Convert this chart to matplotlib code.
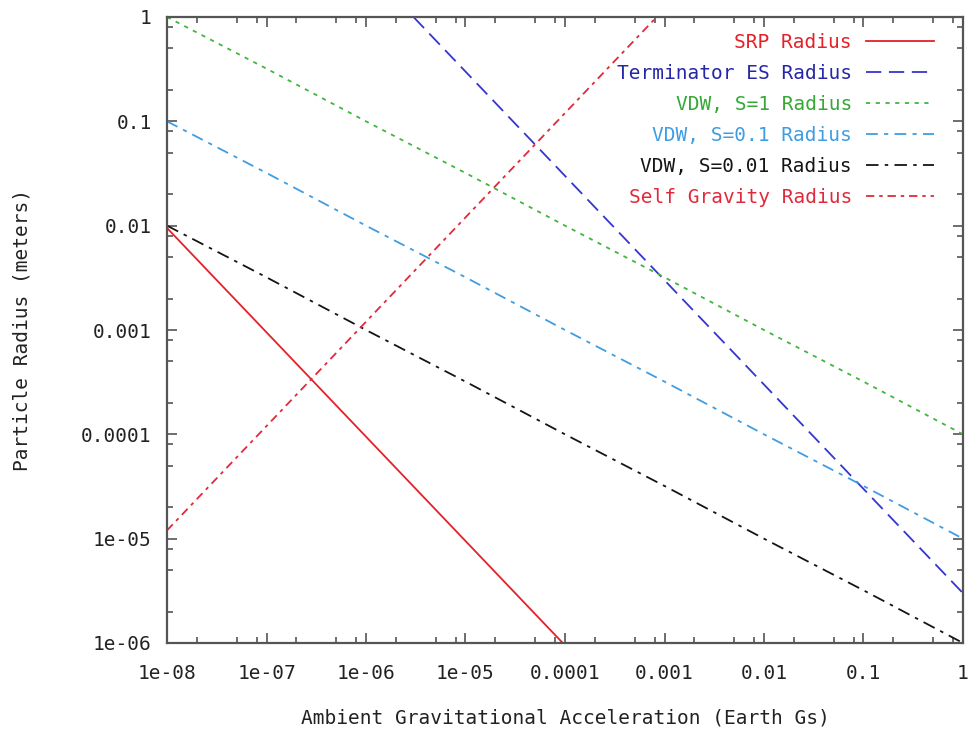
import matplotlib
matplotlib.use("Agg")
import matplotlib.pyplot as plt
from matplotlib.ticker import LogLocator, FixedLocator, FixedFormatter, NullFormatter

plt.rcParams['font.family'] = ['DejaVu Sans Mono', 'DejaVu Sans']
plt.rcParams['lines.scale_dashes'] = False

# ---- data ----
srp_g = [1e-8, 1e-7, 1e-6, 1e-5, 1e-4]
srp_r = [9.5e-3, 9.5e-4, 9.5e-5, 9.5e-6, 9.5e-7]

es_g = [3e-6, 1e-5, 1e-4, 1e-3, 1e-2, 1e-1, 1]
es_r = [1, 0.3, 0.03, 3e-3, 3e-4, 3e-5, 3e-6]

dec_g = [1e-8, 1e-7, 1e-6, 1e-5, 1e-4, 1e-3, 1e-2, 1e-1, 1]
vdw1_r = [1, 0.32, 0.1, 0.032, 0.01, 3.2e-3, 1e-3, 3.2e-4, 1e-4]
vdw01_r = [0.1, 0.032, 0.01, 3.2e-3, 1e-3, 3.2e-4, 1e-4, 3.2e-5, 1e-5]
vdw001_r = [0.01, 3.2e-3, 1e-3, 3.2e-4, 1e-4, 3.2e-5, 1e-5, 3.2e-6, 1e-6]

sg_g = [1e-8, 1e-7, 1e-6, 1e-5, 1e-4, 1e-3]
sg_r = [1.2e-5, 1.2e-4, 1.2e-3, 1.2e-2, 0.12, 1.2]

xticks = [1e-8, 1e-7, 1e-6, 1e-5, 1e-4, 1e-3, 1e-2, 1e-1, 1]
xticklabels = ['1e-08', '1e-07', '1e-06', '1e-05', '0.0001', '0.001', '0.01', '0.1', '1']
yticks = [1e-6, 1e-5, 1e-4, 1e-3, 1e-2, 1e-1, 1]
yticklabels = ['1e-06', '1e-05', '0.0001', '0.001', '0.01', '0.1', '1']

# ---- figure ----
fig = plt.figure(figsize=(9.69, 7.34), dpi=100)
ax = fig.add_axes([167/969, 1-643/734, (963-167)/969, (643-17)/734])

lw = 1.3
c_srp = '#e42129'
c_es = '#3535d0'
c_v1 = '#40b540'
c_v01 = '#3f9de2'
c_v001 = '#151515'
c_sg = '#e02a3c'

ax.plot(srp_g, srp_r, color=c_srp, lw=lw, ls='-', label='SRP Radius')
ax.plot(es_g, es_r, color=c_es, lw=lw, ls=(0, (11, 5.5)), label='Terminator ES Radius')
ax.plot(dec_g, vdw1_r, color=c_v1, lw=lw, ls=(0, (3, 4)), label='VDW, S=1 Radius')
ax.plot(dec_g, vdw01_r, color=c_v01, lw=lw, ls=(0, (8.5, 4.5, 3, 4.5)), label='VDW, S=0.1 Radius')
ax.plot(dec_g, vdw001_r, color=c_v001, lw=lw, ls=(0, (9, 4.5, 2.5, 4.5)), label='VDW, S=0.01 Radius')
ax.plot(sg_g, sg_r, color=c_sg, lw=lw, ls=(0, (6, 3.5, 2.5, 3.5)), label='Self Gravity Radius')

ax.set_xscale('log')
ax.set_yscale('log')
ax.set_xlim(1e-8, 1)
ax.set_ylim(1e-6, 1)

ax.xaxis.set_major_locator(FixedLocator(xticks))
ax.xaxis.set_major_formatter(FixedFormatter(xticklabels))
ax.yaxis.set_major_locator(FixedLocator(yticks))
ax.yaxis.set_major_formatter(FixedFormatter(yticklabels))
ax.xaxis.set_minor_locator(LogLocator(base=10, subs=[2, 5, 8], numticks=20))
ax.yaxis.set_minor_locator(LogLocator(base=10, subs=[2, 5, 8], numticks=20))
ax.xaxis.set_minor_formatter(NullFormatter())
ax.yaxis.set_minor_formatter(NullFormatter())

ax.tick_params(which='both', direction='in', top=True, right=True, color='#555555', width=1.2)
ax.tick_params(which='major', length=7)
ax.tick_params(which='minor', length=4)
ax.tick_params(axis='x', which='major', pad=15, labelsize=14, labelcolor='#222222')
ax.tick_params(axis='y', which='major', pad=11, labelsize=14, labelcolor='#222222')

for s in ax.spines.values():
    s.set_color('#555555')
    s.set_linewidth(1.6)

fig.text(0.5 * (167 + 963) / 969, 1 - 718/734, 'Ambient Gravitational Acceleration (Earth Gs)',
         ha='center', va='center', fontsize=14, color='#222222')
fig.text(22/969, 1 - 330/734, 'Particle Radius (meters)', rotation=90,
         ha='center', va='center', fontsize=14, color='#222222')

leg = ax.legend(loc='upper right', bbox_to_anchor=((934-167)/(963-167), 1 - 16/626),
                frameon=False, markerfirst=False, fontsize=14, borderpad=0,
                borderaxespad=0, handlelength=3.5, handletextpad=0.72, labelspacing=0.62)
text_colors = ['#e42129', '#2626a8', '#36a836', '#3f9de2', '#151515', '#e02a3c']
for t, c in zip(leg.get_texts(), text_colors):
    t.set_color(c)

fig.savefig('out.png', dpi=100)
